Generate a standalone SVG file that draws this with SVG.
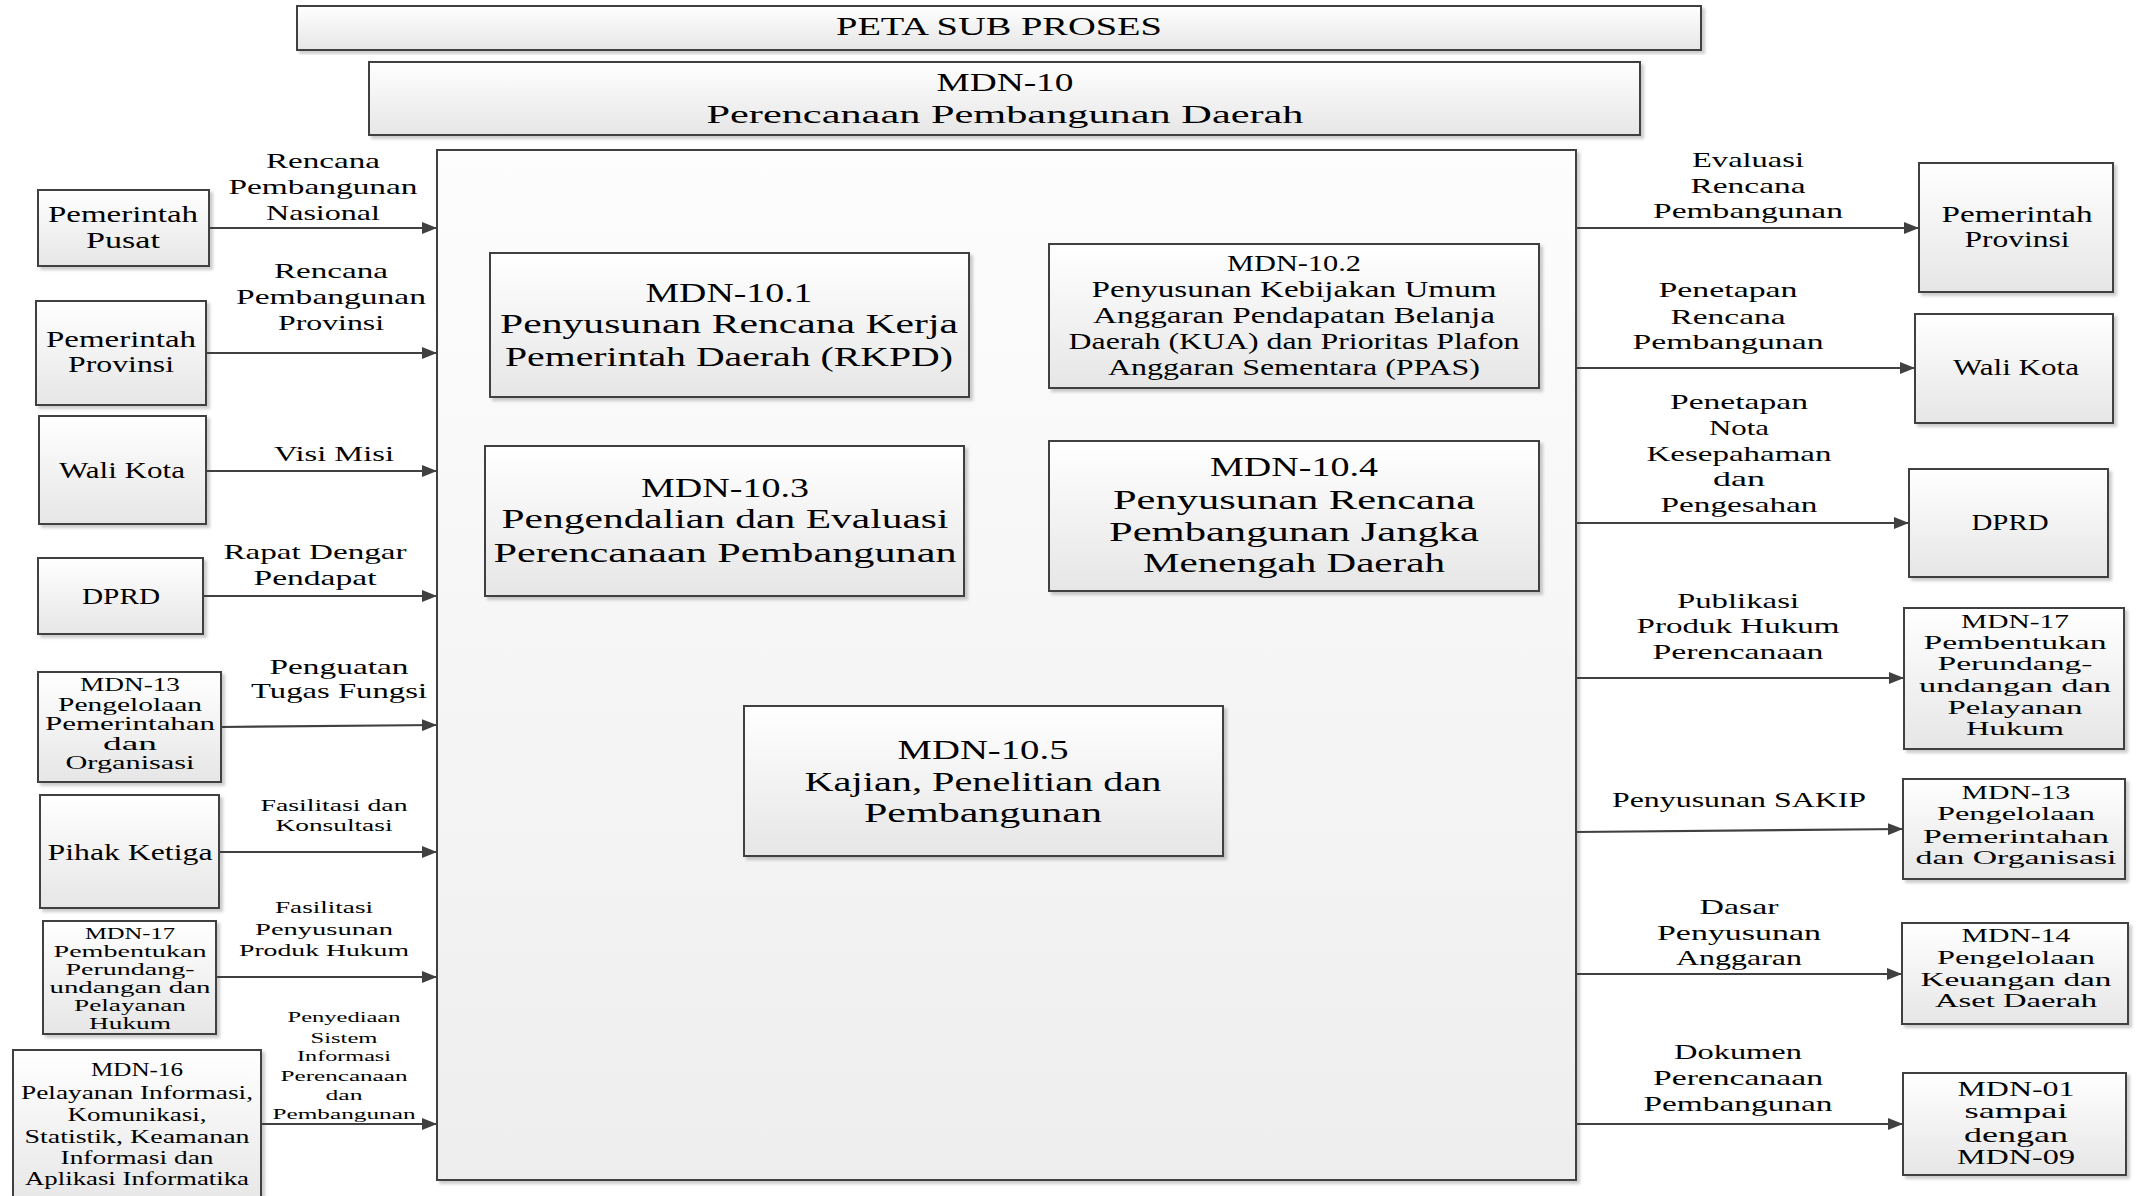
<svg xmlns="http://www.w3.org/2000/svg" width="2136" height="1196" viewBox="0 0 2136 1196">
<defs>
<linearGradient id="g" x1="0" y1="0" x2="0" y2="1"><stop offset="0" stop-color="#ffffff"/><stop offset="1" stop-color="#e6e6e6"/></linearGradient>
<linearGradient id="gm" x1="0" y1="0" x2="0" y2="1"><stop offset="0" stop-color="#fdfdfd"/><stop offset="1" stop-color="#eeeeee"/></linearGradient>
<filter id="sh" x="-5%" y="-5%" width="115%" height="115%"><feDropShadow dx="3" dy="3" stdDeviation="1.5" flood-color="#000" flood-opacity="0.2"/></filter>
<marker id="ah" markerWidth="15" markerHeight="12" refX="15" refY="6" orient="auto" markerUnits="userSpaceOnUse"><path d="M0,0 L15,6 L0,12 z" fill="#404040"/></marker>
<style>
.box{fill:url(#g);stroke:#404040;stroke-width:2;filter:url(#sh)}
.main{fill:url(#gm);stroke:#404040;stroke-width:2;filter:url(#sh)}
.c{fill:none;stroke:#404040;stroke-width:2.2;marker-end:url(#ah)}
text{font-family:"Liberation Serif","Times New Roman",serif;fill:#000;text-anchor:middle}
.s28{font-size:28px}.s26{font-size:26px}.s25{font-size:25px}.s23{font-size:23px}.s21{font-size:21px}.s19{font-size:19px}.s18{font-size:18px}.s17{font-size:17px}.s16{font-size:16px}.s15{font-size:15px}
</style>
</defs>
<rect width="2136" height="1196" fill="#ffffff"/>

<g id="title">
<rect class="box" x="297" y="6" width="1404" height="44"/>
<text class="s25" x="999" y="35" textLength="326" lengthAdjust="spacingAndGlyphs">PETA SUB PROSES</text>
</g>
<g id="mdn10-header">
<rect class="box" x="369" y="62" width="1271" height="73"/>
<text class="s26" x="1005" y="91" textLength="137" lengthAdjust="spacingAndGlyphs">MDN-10</text>
<text class="s26" x="1005" y="123" textLength="597" lengthAdjust="spacingAndGlyphs">Perencanaan Pembangunan Daerah</text>
</g>

<g id="mdn10-main">
<rect class="main" x="437" y="150" width="1139" height="1030"/>
</g>

<g id="mdn10-1">
<rect class="box" x="490" y="253" width="479" height="144"/>
<text class="s28" x="729" y="302" textLength="167" lengthAdjust="spacingAndGlyphs">MDN-10.1</text>
<text class="s28" x="729" y="333" textLength="458" lengthAdjust="spacingAndGlyphs">Penyusunan Rencana Kerja</text>
<text class="s28" x="729" y="366" textLength="448" lengthAdjust="spacingAndGlyphs">Pemerintah Daerah (RKPD)</text>
</g>
<g id="mdn10-2">
<rect class="box" x="1049" y="244" width="490" height="144"/>
<text class="s23" x="1294" y="271" textLength="134" lengthAdjust="spacingAndGlyphs">MDN-10.2</text>
<text class="s23" x="1294" y="297" textLength="405" lengthAdjust="spacingAndGlyphs">Penyusunan Kebijakan Umum</text>
<text class="s23" x="1294" y="323" textLength="402" lengthAdjust="spacingAndGlyphs">Anggaran Pendapatan Belanja</text>
<text class="s23" x="1294" y="349" textLength="451" lengthAdjust="spacingAndGlyphs">Daerah (KUA) dan Prioritas Plafon</text>
<text class="s23" x="1294" y="375" textLength="372" lengthAdjust="spacingAndGlyphs">Anggaran Sementara (PPAS)</text>
</g>
<g id="mdn10-3">
<rect class="box" x="485" y="446" width="479" height="150"/>
<text class="s28" x="725" y="497" textLength="168" lengthAdjust="spacingAndGlyphs">MDN-10.3</text>
<text class="s28" x="725" y="528" textLength="447" lengthAdjust="spacingAndGlyphs">Pengendalian dan Evaluasi</text>
<text class="s28" x="725" y="562" textLength="463" lengthAdjust="spacingAndGlyphs">Perencanaan Pembangunan</text>
</g>
<g id="mdn10-4">
<rect class="box" x="1049" y="441" width="490" height="150"/>
<text class="s28" x="1294" y="476" textLength="168" lengthAdjust="spacingAndGlyphs">MDN-10.4</text>
<text class="s28" x="1294" y="509" textLength="362" lengthAdjust="spacingAndGlyphs">Penyusunan Rencana</text>
<text class="s28" x="1294" y="541" textLength="370" lengthAdjust="spacingAndGlyphs">Pembangunan Jangka</text>
<text class="s28" x="1294" y="572" textLength="302" lengthAdjust="spacingAndGlyphs">Menengah Daerah</text>
</g>
<g id="mdn10-5">
<rect class="box" x="744" y="706" width="479" height="150"/>
<text class="s28" x="983" y="759" textLength="171" lengthAdjust="spacingAndGlyphs">MDN-10.5</text>
<text class="s28" x="983" y="791" textLength="357" lengthAdjust="spacingAndGlyphs">Kajian, Penelitian dan</text>
<text class="s28" x="983" y="822" textLength="238" lengthAdjust="spacingAndGlyphs">Pembangunan</text>
</g>

<g id="in-pemerintah-pusat">
<rect class="box" x="38" y="190" width="171" height="76"/>
<text class="s23" x="123" y="222" textLength="150" lengthAdjust="spacingAndGlyphs">Pemerintah</text>
<text class="s23" x="123" y="248" textLength="74" lengthAdjust="spacingAndGlyphs">Pusat</text>
</g>
<g id="in-pemerintah-provinsi">
<rect class="box" x="36" y="301" width="170" height="104"/>
<text class="s23" x="121" y="347" textLength="150" lengthAdjust="spacingAndGlyphs">Pemerintah</text>
<text class="s23" x="121" y="372" textLength="106" lengthAdjust="spacingAndGlyphs">Provinsi</text>
</g>
<g id="in-wali-kota">
<rect class="box" x="39" y="416" width="167" height="108"/>
<text class="s23" x="122" y="478" textLength="126" lengthAdjust="spacingAndGlyphs">Wali Kota</text>
</g>
<g id="in-dprd">
<rect class="box" x="38" y="558" width="165" height="76"/>
<text class="s23" x="121" y="604" textLength="78" lengthAdjust="spacingAndGlyphs">DPRD</text>
</g>
<g id="in-mdn13">
<rect class="box" x="38" y="672" width="183" height="110"/>
<text class="s18" x="130" y="691" textLength="100" lengthAdjust="spacingAndGlyphs">MDN-13</text>
<text class="s18" x="130" y="711" textLength="144" lengthAdjust="spacingAndGlyphs">Pengelolaan</text>
<text class="s18" x="130" y="730" textLength="170" lengthAdjust="spacingAndGlyphs">Pemerintahan</text>
<text class="s18" x="130" y="750" textLength="54" lengthAdjust="spacingAndGlyphs">dan</text>
<text class="s18" x="130" y="769" textLength="129" lengthAdjust="spacingAndGlyphs">Organisasi</text>
</g>
<g id="in-pihak-ketiga">
<rect class="box" x="40" y="795" width="179" height="113"/>
<text class="s23" x="130" y="860" textLength="165" lengthAdjust="spacingAndGlyphs">Pihak Ketiga</text>
</g>
<g id="in-mdn17">
<rect class="box" x="43" y="921" width="173" height="113"/>
<text class="s16" x="130" y="939" textLength="90" lengthAdjust="spacingAndGlyphs">MDN-17</text>
<text class="s16" x="130" y="957" textLength="153" lengthAdjust="spacingAndGlyphs">Pembentukan</text>
<text class="s16" x="130" y="975" textLength="129" lengthAdjust="spacingAndGlyphs">Perundang-</text>
<text class="s16" x="130" y="993" textLength="161" lengthAdjust="spacingAndGlyphs">undangan dan</text>
<text class="s16" x="130" y="1011" textLength="112" lengthAdjust="spacingAndGlyphs">Pelayanan</text>
<text class="s16" x="130" y="1029" textLength="82" lengthAdjust="spacingAndGlyphs">Hukum</text>
</g>
<g id="in-mdn16">
<rect class="box" x="13" y="1050" width="248" height="160"/>
<text class="s18" x="137" y="1076" textLength="92" lengthAdjust="spacingAndGlyphs">MDN-16</text>
<text class="s18" x="137" y="1099" textLength="232" lengthAdjust="spacingAndGlyphs">Pelayanan Informasi,</text>
<text class="s18" x="137" y="1121" textLength="139" lengthAdjust="spacingAndGlyphs">Komunikasi,</text>
<text class="s18" x="137" y="1143" textLength="225" lengthAdjust="spacingAndGlyphs">Statistik, Keamanan</text>
<text class="s18" x="137" y="1164" textLength="153" lengthAdjust="spacingAndGlyphs">Informasi dan</text>
<text class="s18" x="137" y="1185" textLength="224" lengthAdjust="spacingAndGlyphs">Aplikasi Informatika</text>
</g>

<g id="out-pemerintah-provinsi">
<rect class="box" x="1919" y="163" width="194" height="129"/>
<text class="s23" x="2017" y="222" textLength="151" lengthAdjust="spacingAndGlyphs">Pemerintah</text>
<text class="s23" x="2017" y="247" textLength="105" lengthAdjust="spacingAndGlyphs">Provinsi</text>
</g>
<g id="out-wali-kota">
<rect class="box" x="1915" y="314" width="198" height="109"/>
<text class="s23" x="2016" y="375" textLength="126" lengthAdjust="spacingAndGlyphs">Wali Kota</text>
</g>
<g id="out-dprd">
<rect class="box" x="1909" y="469" width="199" height="108"/>
<text class="s23" x="2010" y="530" textLength="77" lengthAdjust="spacingAndGlyphs">DPRD</text>
</g>
<g id="out-mdn17">
<rect class="box" x="1904" y="608" width="220" height="141"/>
<text class="s19" x="2015" y="628" textLength="108" lengthAdjust="spacingAndGlyphs">MDN-17</text>
<text class="s19" x="2015" y="649" textLength="183" lengthAdjust="spacingAndGlyphs">Pembentukan</text>
<text class="s19" x="2015" y="670" textLength="155" lengthAdjust="spacingAndGlyphs">Perundang-</text>
<text class="s19" x="2015" y="692" textLength="192" lengthAdjust="spacingAndGlyphs">undangan dan</text>
<text class="s19" x="2015" y="714" textLength="135" lengthAdjust="spacingAndGlyphs">Pelayanan</text>
<text class="s19" x="2015" y="735" textLength="98" lengthAdjust="spacingAndGlyphs">Hukum</text>
</g>
<g id="out-mdn13">
<rect class="box" x="1903" y="779" width="222" height="100"/>
<text class="s19" x="2016" y="799" textLength="109" lengthAdjust="spacingAndGlyphs">MDN-13</text>
<text class="s19" x="2016" y="820" textLength="158" lengthAdjust="spacingAndGlyphs">Pengelolaan</text>
<text class="s19" x="2016" y="843" textLength="186" lengthAdjust="spacingAndGlyphs">Pemerintahan</text>
<text class="s19" x="2016" y="864" textLength="201" lengthAdjust="spacingAndGlyphs">dan Organisasi</text>
</g>
<g id="out-mdn14">
<rect class="box" x="1902" y="923" width="226" height="101"/>
<text class="s19" x="2016" y="942" textLength="109" lengthAdjust="spacingAndGlyphs">MDN-14</text>
<text class="s19" x="2016" y="964" textLength="158" lengthAdjust="spacingAndGlyphs">Pengelolaan</text>
<text class="s19" x="2016" y="986" textLength="191" lengthAdjust="spacingAndGlyphs">Keuangan dan</text>
<text class="s19" x="2016" y="1007" textLength="162" lengthAdjust="spacingAndGlyphs">Aset Daerah</text>
</g>
<g id="out-mdn01-09">
<rect class="box" x="1903" y="1073" width="223" height="102"/>
<text class="s21" x="2016" y="1096" textLength="117" lengthAdjust="spacingAndGlyphs">MDN-01</text>
<text class="s21" x="2016" y="1118" textLength="103" lengthAdjust="spacingAndGlyphs">sampai</text>
<text class="s21" x="2016" y="1142" textLength="104" lengthAdjust="spacingAndGlyphs">dengan</text>
<text class="s21" x="2016" y="1164" textLength="118" lengthAdjust="spacingAndGlyphs">MDN-09</text>
</g>

<g id="connectors">
<line class="c" x1="209" y1="228" x2="437" y2="228"/>
<line class="c" x1="206" y1="353" x2="437" y2="353"/>
<line class="c" x1="206" y1="471" x2="437" y2="471"/>
<line class="c" x1="203" y1="596" x2="437" y2="596"/>
<line class="c" x1="221" y1="727" x2="437" y2="725"/>
<line class="c" x1="219" y1="852" x2="437" y2="852"/>
<line class="c" x1="216" y1="977" x2="437" y2="977"/>
<line class="c" x1="261" y1="1124" x2="437" y2="1124"/>
<line class="c" x1="1576" y1="228" x2="1919" y2="228"/>
<line class="c" x1="1576" y1="368" x2="1915" y2="368"/>
<line class="c" x1="1576" y1="523" x2="1909" y2="523"/>
<line class="c" x1="1576" y1="678" x2="1904" y2="678"/>
<line class="c" x1="1576" y1="832" x2="1903" y2="829"/>
<line class="c" x1="1576" y1="974" x2="1902" y2="974"/>
<line class="c" x1="1576" y1="1124" x2="1903" y2="1124"/>

<text class="s21" x="323" y="168" textLength="114" lengthAdjust="spacingAndGlyphs">Rencana</text>
<text class="s21" x="323" y="194" textLength="189" lengthAdjust="spacingAndGlyphs">Pembangunan</text>
<text class="s21" x="323" y="220" textLength="114" lengthAdjust="spacingAndGlyphs">Nasional</text>

<text class="s21" x="331" y="278" textLength="114" lengthAdjust="spacingAndGlyphs">Rencana</text>
<text class="s21" x="331" y="304" textLength="190" lengthAdjust="spacingAndGlyphs">Pembangunan</text>
<text class="s21" x="331" y="330" textLength="106" lengthAdjust="spacingAndGlyphs">Provinsi</text>

<text class="s21" x="334" y="461" textLength="120" lengthAdjust="spacingAndGlyphs">Visi Misi</text>

<text class="s21" x="315" y="559" textLength="183" lengthAdjust="spacingAndGlyphs">Rapat Dengar</text>
<text class="s21" x="315" y="585" textLength="123" lengthAdjust="spacingAndGlyphs">Pendapat</text>

<text class="s21" x="339" y="674" textLength="139" lengthAdjust="spacingAndGlyphs">Penguatan</text>
<text class="s21" x="339" y="698" textLength="176" lengthAdjust="spacingAndGlyphs">Tugas Fungsi</text>

<text class="s16" x="334" y="811" textLength="147" lengthAdjust="spacingAndGlyphs">Fasilitasi dan</text>
<text class="s16" x="334" y="831" textLength="117" lengthAdjust="spacingAndGlyphs">Konsultasi</text>

<text class="s17" x="324" y="913" textLength="98" lengthAdjust="spacingAndGlyphs">Fasilitasi</text>
<text class="s17" x="324" y="935" textLength="138" lengthAdjust="spacingAndGlyphs">Penyusunan</text>
<text class="s17" x="324" y="956" textLength="170" lengthAdjust="spacingAndGlyphs">Produk Hukum</text>

<text class="s15" x="344" y="1022" textLength="113" lengthAdjust="spacingAndGlyphs">Penyediaan</text>
<text class="s15" x="344" y="1043" textLength="67" lengthAdjust="spacingAndGlyphs">Sistem</text>
<text class="s15" x="344" y="1061" textLength="94" lengthAdjust="spacingAndGlyphs">Informasi</text>
<text class="s15" x="344" y="1081" textLength="127" lengthAdjust="spacingAndGlyphs">Perencanaan</text>
<text class="s15" x="344" y="1100" textLength="37" lengthAdjust="spacingAndGlyphs">dan</text>
<text class="s15" x="344" y="1119" textLength="143" lengthAdjust="spacingAndGlyphs">Pembangunan</text>

<text class="s21" x="1748" y="167" textLength="112" lengthAdjust="spacingAndGlyphs">Evaluasi</text>
<text class="s21" x="1748" y="193" textLength="115" lengthAdjust="spacingAndGlyphs">Rencana</text>
<text class="s21" x="1748" y="218" textLength="190" lengthAdjust="spacingAndGlyphs">Pembangunan</text>

<text class="s21" x="1728" y="297" textLength="139" lengthAdjust="spacingAndGlyphs">Penetapan</text>
<text class="s21" x="1728" y="324" textLength="115" lengthAdjust="spacingAndGlyphs">Rencana</text>
<text class="s21" x="1728" y="349" textLength="191" lengthAdjust="spacingAndGlyphs">Pembangunan</text>

<text class="s21" x="1739" y="409" textLength="138" lengthAdjust="spacingAndGlyphs">Penetapan</text>
<text class="s21" x="1739" y="435" textLength="60" lengthAdjust="spacingAndGlyphs">Nota</text>
<text class="s21" x="1739" y="461" textLength="185" lengthAdjust="spacingAndGlyphs">Kesepahaman</text>
<text class="s21" x="1739" y="486" textLength="52" lengthAdjust="spacingAndGlyphs">dan</text>
<text class="s21" x="1739" y="512" textLength="157" lengthAdjust="spacingAndGlyphs">Pengesahan</text>

<text class="s21" x="1738" y="608" textLength="122" lengthAdjust="spacingAndGlyphs">Publikasi</text>
<text class="s21" x="1738" y="633" textLength="203" lengthAdjust="spacingAndGlyphs">Produk Hukum</text>
<text class="s21" x="1738" y="659" textLength="171" lengthAdjust="spacingAndGlyphs">Perencanaan</text>

<text class="s21" x="1739" y="807" textLength="254" lengthAdjust="spacingAndGlyphs">Penyusunan SAKIP</text>

<text class="s21" x="1739" y="914" textLength="79" lengthAdjust="spacingAndGlyphs">Dasar</text>
<text class="s21" x="1739" y="940" textLength="164" lengthAdjust="spacingAndGlyphs">Penyusunan</text>
<text class="s21" x="1739" y="965" textLength="126" lengthAdjust="spacingAndGlyphs">Anggaran</text>

<text class="s21" x="1738" y="1059" textLength="128" lengthAdjust="spacingAndGlyphs">Dokumen</text>
<text class="s21" x="1738" y="1085" textLength="170" lengthAdjust="spacingAndGlyphs">Perencanaan</text>
<text class="s21" x="1738" y="1111" textLength="189" lengthAdjust="spacingAndGlyphs">Pembangunan</text>
</g>
</svg>
